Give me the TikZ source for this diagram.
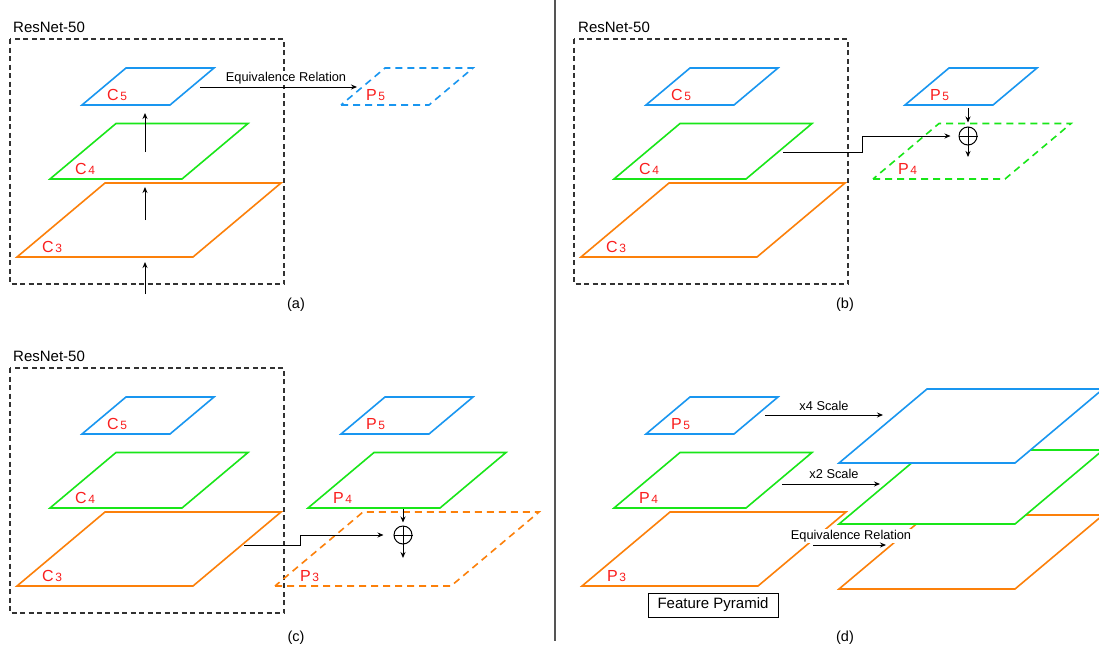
\documentclass[tikz,border=0pt]{standalone}
\usepackage{fontspec}
\setmainfont{Liberation Sans}
\usetikzlibrary{arrows.meta}

\definecolor{lblue}{RGB}{25,150,240}
\definecolor{lgreen}{RGB}{25,230,25}
\definecolor{lorange}{RGB}{252,128,10}
\definecolor{lred}{RGB}{250,30,30}
\definecolor{boxgray}{RGB}{50,50,50}
\definecolor{divgray}{RGB}{85,85,85}

\tikzset{
  plane/.style={line width=1.6pt},
  ghost/.style={plane, dash pattern=on 7pt off 5pt},
  backbone/.style={draw=boxgray, line width=1.1pt, dash pattern=on 5pt off 3.5pt},
  lvl/.style={text=lred, inner sep=0pt, anchor=base west, font=\fontsize{16}{16}\selectfont},
  arr/.style={-{Stealth[length=6pt,width=5pt]}, line width=0.9pt},
  tag/.style={fill=white, inner sep=1pt, anchor=base, font=\fontsize{12.8}{14}\selectfont},
  headline/.style={anchor=base west, inner sep=0pt, font=\fontsize{15}{15}\selectfont},
  subcap/.style={font=\fontsize{14.5}{15}\selectfont},
  sum/.style={circle, draw, line width=1pt, minimum size=18pt, inner sep=0pt},
}

% feature map: bottom-left corner, scale
\newcommand{\sheet}[3]{%
  \draw[#1] #2 -- ++(88*#3,0) -- ++(44*#3,-37*#3) -- ++(-88*#3,0) -- cycle;}
\newcommand{\layer}[5]{%
  \sheet{#1}{#2}{#3}
  \path #2 ++(25,-4.5) node[lvl] (#4) {#5};}
\newcommand{\lv}[2]{#1\hspace{1.5pt}{\fontsize{12}{12}\selectfont #2}}

\begin{document}
\begin{tikzpicture}[x=1pt,y=-1pt]
\clip (0,0) rectangle (1099,651);
\fill[white] (0,0) rectangle (1099,651);

\draw[divgray, line width=1.3pt] (555,0) -- (555,641);

% (a)
\draw[backbone] (10,39) rectangle (284,284);
\node[headline] (resa) at (13,32.5) {ResNet-50};
\layer{plane, draw=lorange}{(17,257)}{2}{c3a}{\lv{C}{3}}
\layer{plane, draw=lgreen}{(50,179)}{1.5}{c4a}{\lv{C}{4}}
\layer{plane, draw=lblue}{(82,105)}{1}{c5a}{\lv{C}{5}}
\layer{ghost, draw=lblue}{(341,105)}{1}{p5a}{\lv{P}{5}}
\coordinate (a0) at (145,294); \coordinate (a1) at (145,262);
\coordinate (a2) at (145,220); \coordinate (a3) at (145,187);
\coordinate (a4) at (145,152); \coordinate (a5) at (145,113);
\draw[arr] (a0) -- (a1);
\draw[arr] (a2) -- (a3);
\draw[arr] (a4) -- (a5);
\node[tag] (eqa) at (286,81) {Equivalence Relation};
\coordinate (eqa0) at (200,87); \coordinate (eqa1) at (357,87);
\draw[arr] (eqa0) -- (eqa1);
\node[subcap] (capa) at (296,305) {(a)};

% (b)
\draw[backbone] (574,39) rectangle (848,284);
\node[headline] (resb) at (578,32.5) {ResNet-50};
\layer{plane, draw=lorange}{(581,257)}{2}{c3b}{\lv{C}{3}}
\layer{plane, draw=lgreen}{(614,179)}{1.5}{c4b}{\lv{C}{4}}
\layer{plane, draw=lblue}{(646,105)}{1}{c5b}{\lv{C}{5}}
\layer{plane, draw=lblue}{(905,105)}{1}{p5b}{\lv{P}{5}}
\layer{ghost, draw=lgreen}{(873,179)}{1.5}{p4b}{\lv{P}{4}}
\node[sum] (sumb) at (968,136) {};
\draw[line width=1pt] (sumb.north) -- (sumb.south) (sumb.west) -- (sumb.east);
\coordinate (lat4) at (783,152);
\coordinate (top5) at (968,108);
\coordinate (outb) at (968,157);
\draw[arr, shorten >=8pt] (lat4) -- ++(79,0) |- (sumb.west);
\draw[arr, shorten >=4pt] (top5) -- (sumb.north);
\draw[arr] (sumb.south) -- (outb);
\node[subcap] (capb) at (845,305) {(b)};

% (c)
\draw[backbone] (10,368) rectangle (284,613);
\node[headline] (resc) at (13,361) {ResNet-50};
\layer{plane, draw=lorange}{(17,586)}{2}{c3c}{\lv{C}{3}}
\layer{plane, draw=lgreen}{(50,508)}{1.5}{c4c}{\lv{C}{4}}
\layer{plane, draw=lblue}{(82,434)}{1}{c5c}{\lv{C}{5}}
\layer{plane, draw=lblue}{(341,434)}{1}{p5c}{\lv{P}{5}}
\layer{plane, draw=lgreen}{(308,508)}{1.5}{p4c}{\lv{P}{4}}
\layer{ghost, draw=lorange}{(275,586)}{2}{p3c}{\lv{P}{3}}
\node[sum] (sumc) at (403,535) {};
\draw[line width=1pt] (sumc.north) -- (sumc.south) (sumc.west) -- (sumc.east);
\coordinate (lat3) at (244,545);
\coordinate (top4) at (403,509);
\coordinate (outc) at (403,558);
\draw[arr, shorten >=10pt] (lat3) -- ++(56,0) |- (sumc.west);
\draw[arr, shorten >=3pt] (top4) -- (sumc.north);
\draw[arr] (sumc.south) -- (outc);
\node[subcap] (capc) at (296,638) {(c)};

% (d)
\layer{plane, draw=lorange}{(582,586)}{2}{p3d}{\lv{P}{3}}
\layer{plane, draw=lgreen}{(614,508)}{1.5}{p4d}{\lv{P}{4}}
\layer{plane, draw=lblue}{(646,434)}{1}{p5d}{\lv{P}{5}}
\sheet{plane, draw=lorange, fill=white}{(839,589)}{2}
\sheet{plane, draw=lgreen, fill=white}{(839,524)}{2}
\sheet{plane, draw=lblue, fill=white}{(839,463)}{2}
\node[tag] (x4) at (824,410) {x4 Scale};
\node[tag] (x2) at (834,478) {x2 Scale};
\node[tag] (eqd) at (851,539) {Equivalence Relation};
\coordinate (x4a) at (765,415); \coordinate (x4b) at (883,415);
\coordinate (x2a) at (782,484); \coordinate (x2b) at (880,484);
\coordinate (eqda) at (813,545); \coordinate (eqdb) at (886,545);
\draw[arr] (x4a) -- (x4b);
\draw[arr] (x2a) -- (x2b);
\draw[arr] (eqda) -- (eqdb);
\node[draw, line width=0.9pt, minimum width=130pt, minimum height=24pt,
  font=\fontsize{15}{15}\selectfont] (fp) at (713,605) {Feature Pyramid};
\node[subcap] (capd) at (845,638) {(d)};
\end{tikzpicture}
\end{document}
